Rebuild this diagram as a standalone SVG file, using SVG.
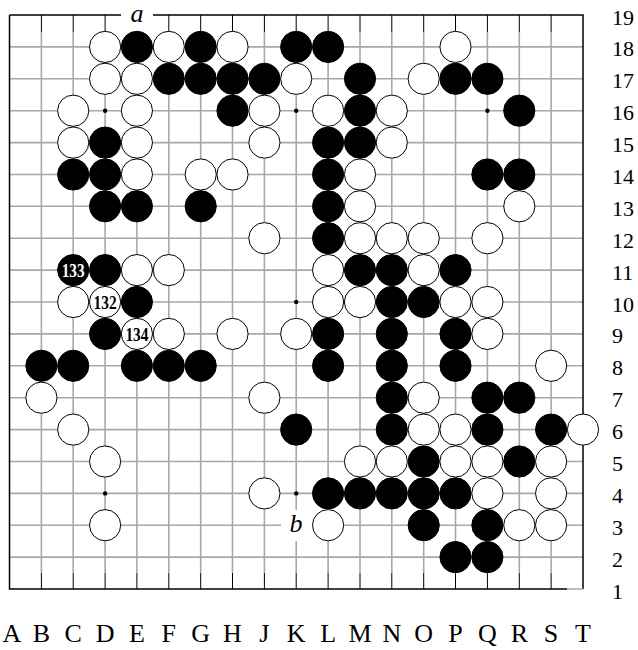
<svg xmlns="http://www.w3.org/2000/svg" width="638" height="650" viewBox="0 0 638 650">
<style>
.g{stroke:#a8a8a8;stroke-width:1.6;fill:none}
.t{stroke:#000;stroke-width:1;fill:none}
.bd{stroke:#000;stroke-width:1.5;fill:none}
.b{fill:#000;stroke:#000;stroke-width:1}
.w{fill:#fff;stroke:#000;stroke-width:1}
.hs{fill:#000}
.lab{font-family:"Liberation Serif","Times New Roman",serif;fill:#000}
.col{font-size:26px;text-anchor:middle}
.row{font-size:22px;text-anchor:start}
.it{font-size:26px;font-style:italic;text-anchor:middle}
.num{font-family:"Liberation Serif","Times New Roman",serif;font-size:18.5px;font-weight:bold;text-anchor:middle}
</style>
<rect width="638" height="650" fill="#fff"/>
<g id="grid">
<g class="g">
<path d="M9.5 46.9H583M9.5 78.8H583M9.5 110.7H583M9.5 142.6H583M9.5 174.5H583M9.5 206.3H583M9.5 238.2H583M9.5 270.1H583M9.5 302H583M9.5 333.9H583M9.5 365.8H583M9.5 397.7H583M9.5 429.6H583M9.5 461.5H583M9.5 493.4H583M9.5 525.2H583M9.5 557.1H583"/>
<path d="M41.4 32V573M73.2 32V573M105.1 32V573M136.9 32V573M168.8 32V573M200.7 32V573M232.5 32V573M264.4 32V573M296.2 32V573M328.1 32V573M360 32V573M391.8 32V573M423.7 32V573M455.5 32V573M487.4 32V573M519.3 32V573M551.1 32V573"/>
</g>
<g class="t">
<path d="M41.4 15V32M73.2 15V32M105.1 15V32M136.9 15V32M168.8 15V32M200.7 15V32M232.5 15V32M264.4 15V32M296.2 15V32M328.1 15V32M360 15V32M391.8 15V32M423.7 15V32M455.5 15V32M487.4 15V32M519.3 15V32M551.1 15V32"/>
<path d="M41.4 573V589M73.2 573V589M105.1 573V589M136.9 573V589M168.8 573V589M200.7 573V589M232.5 573V589M264.4 573V589M296.2 573V589M328.1 573V589M360 573V589M391.8 573V589M423.7 573V589M455.5 573V589M487.4 573V589M519.3 573V589M551.1 573V589"/>
</g>
<path class="bd" d="M9.5 15H583V589M9.5 15V589H567"/>
<path d="M567 589H583" stroke="#a8a8a8" stroke-width="1.5"/>
</g>
<g id="hoshi" class="hs">
<circle cx="105.1" cy="110.7" r="2.2"/>
<circle cx="296.2" cy="110.7" r="2.2"/>
<circle cx="487.4" cy="110.7" r="2.2"/>
<circle cx="296.2" cy="302" r="2.2"/>
<circle cx="105.1" cy="493.4" r="2.2"/>
<circle cx="296.2" cy="493.4" r="2.2"/>
</g>
<g id="marks">
<rect x="121" y="0" width="32" height="31" fill="#fff"/>
<text class="lab it" x="137" y="22">a</text>
<rect x="281" y="510" width="31" height="31" fill="#fff"/>
<text class="lab it" x="296" y="532">b</text>
</g>
<g id="black-stones" class="b">
<circle cx="136.9" cy="46.9" r="15.6"/>
<circle cx="200.7" cy="46.9" r="15.6"/>
<circle cx="296.2" cy="46.9" r="15.6"/>
<circle cx="328.1" cy="46.9" r="15.6"/>
<circle cx="168.8" cy="78.8" r="15.6"/>
<circle cx="200.7" cy="78.8" r="15.6"/>
<circle cx="232.5" cy="78.8" r="15.6"/>
<circle cx="264.4" cy="78.8" r="15.6"/>
<circle cx="360" cy="78.8" r="15.6"/>
<circle cx="455.5" cy="78.8" r="15.6"/>
<circle cx="487.4" cy="78.8" r="15.6"/>
<circle cx="232.5" cy="110.7" r="15.6"/>
<circle cx="360" cy="110.7" r="15.6"/>
<circle cx="519.3" cy="110.7" r="15.6"/>
<circle cx="105.1" cy="142.6" r="15.6"/>
<circle cx="328.1" cy="142.6" r="15.6"/>
<circle cx="360" cy="142.6" r="15.6"/>
<circle cx="73.2" cy="174.5" r="15.6"/>
<circle cx="105.1" cy="174.5" r="15.6"/>
<circle cx="328.1" cy="174.5" r="15.6"/>
<circle cx="487.4" cy="174.5" r="15.6"/>
<circle cx="519.3" cy="174.5" r="15.6"/>
<circle cx="105.1" cy="206.3" r="15.6"/>
<circle cx="136.9" cy="206.3" r="15.6"/>
<circle cx="200.7" cy="206.3" r="15.6"/>
<circle cx="328.1" cy="206.3" r="15.6"/>
<circle cx="328.1" cy="238.2" r="15.6"/>
<circle cx="105.1" cy="270.1" r="15.6"/>
<circle cx="360" cy="270.1" r="15.6"/>
<circle cx="391.8" cy="270.1" r="15.6"/>
<circle cx="455.5" cy="270.1" r="15.6"/>
<circle cx="136.9" cy="302" r="15.6"/>
<circle cx="391.8" cy="302" r="15.6"/>
<circle cx="423.7" cy="302" r="15.6"/>
<circle cx="105.1" cy="333.9" r="15.6"/>
<circle cx="328.1" cy="333.9" r="15.6"/>
<circle cx="391.8" cy="333.9" r="15.6"/>
<circle cx="455.5" cy="333.9" r="15.6"/>
<circle cx="41.4" cy="365.8" r="15.6"/>
<circle cx="73.2" cy="365.8" r="15.6"/>
<circle cx="136.9" cy="365.8" r="15.6"/>
<circle cx="168.8" cy="365.8" r="15.6"/>
<circle cx="200.7" cy="365.8" r="15.6"/>
<circle cx="328.1" cy="365.8" r="15.6"/>
<circle cx="391.8" cy="365.8" r="15.6"/>
<circle cx="455.5" cy="365.8" r="15.6"/>
<circle cx="391.8" cy="397.7" r="15.6"/>
<circle cx="487.4" cy="397.7" r="15.6"/>
<circle cx="519.3" cy="397.7" r="15.6"/>
<circle cx="296.2" cy="429.6" r="15.6"/>
<circle cx="391.8" cy="429.6" r="15.6"/>
<circle cx="487.4" cy="429.6" r="15.6"/>
<circle cx="551.1" cy="429.6" r="15.6"/>
<circle cx="423.7" cy="461.5" r="15.6"/>
<circle cx="519.3" cy="461.5" r="15.6"/>
<circle cx="328.1" cy="493.4" r="15.6"/>
<circle cx="360" cy="493.4" r="15.6"/>
<circle cx="391.8" cy="493.4" r="15.6"/>
<circle cx="423.7" cy="493.4" r="15.6"/>
<circle cx="455.5" cy="493.4" r="15.6"/>
<circle cx="423.7" cy="525.2" r="15.6"/>
<circle cx="487.4" cy="525.2" r="15.6"/>
<circle cx="455.5" cy="557.1" r="15.6"/>
<circle cx="487.4" cy="557.1" r="15.6"/>
</g>
<g id="white-stones" class="w">
<circle cx="105.1" cy="46.9" r="15.6"/>
<circle cx="168.8" cy="46.9" r="15.6"/>
<circle cx="232.5" cy="46.9" r="15.6"/>
<circle cx="455.5" cy="46.9" r="15.6"/>
<circle cx="105.1" cy="78.8" r="15.6"/>
<circle cx="136.9" cy="78.8" r="15.6"/>
<circle cx="296.2" cy="78.8" r="15.6"/>
<circle cx="423.7" cy="78.8" r="15.6"/>
<circle cx="73.2" cy="110.7" r="15.6"/>
<circle cx="136.9" cy="110.7" r="15.6"/>
<circle cx="264.4" cy="110.7" r="15.6"/>
<circle cx="328.1" cy="110.7" r="15.6"/>
<circle cx="391.8" cy="110.7" r="15.6"/>
<circle cx="73.2" cy="142.6" r="15.6"/>
<circle cx="136.9" cy="142.6" r="15.6"/>
<circle cx="264.4" cy="142.6" r="15.6"/>
<circle cx="391.8" cy="142.6" r="15.6"/>
<circle cx="136.9" cy="174.5" r="15.6"/>
<circle cx="200.7" cy="174.5" r="15.6"/>
<circle cx="232.5" cy="174.5" r="15.6"/>
<circle cx="360" cy="174.5" r="15.6"/>
<circle cx="360" cy="206.3" r="15.6"/>
<circle cx="519.3" cy="206.3" r="15.6"/>
<circle cx="264.4" cy="238.2" r="15.6"/>
<circle cx="360" cy="238.2" r="15.6"/>
<circle cx="391.8" cy="238.2" r="15.6"/>
<circle cx="423.7" cy="238.2" r="15.6"/>
<circle cx="487.4" cy="238.2" r="15.6"/>
<circle cx="136.9" cy="270.1" r="15.6"/>
<circle cx="168.8" cy="270.1" r="15.6"/>
<circle cx="328.1" cy="270.1" r="15.6"/>
<circle cx="423.7" cy="270.1" r="15.6"/>
<circle cx="73.2" cy="302" r="15.6"/>
<circle cx="328.1" cy="302" r="15.6"/>
<circle cx="360" cy="302" r="15.6"/>
<circle cx="455.5" cy="302" r="15.6"/>
<circle cx="487.4" cy="302" r="15.6"/>
<circle cx="168.8" cy="333.9" r="15.6"/>
<circle cx="232.5" cy="333.9" r="15.6"/>
<circle cx="296.2" cy="333.9" r="15.6"/>
<circle cx="487.4" cy="333.9" r="15.6"/>
<circle cx="551.1" cy="365.8" r="15.6"/>
<circle cx="41.4" cy="397.7" r="15.6"/>
<circle cx="264.4" cy="397.7" r="15.6"/>
<circle cx="423.7" cy="397.7" r="15.6"/>
<circle cx="73.2" cy="429.6" r="15.6"/>
<circle cx="423.7" cy="429.6" r="15.6"/>
<circle cx="455.5" cy="429.6" r="15.6"/>
<circle cx="583" cy="429.6" r="15.6"/>
<circle cx="105.1" cy="461.5" r="15.6"/>
<circle cx="360" cy="461.5" r="15.6"/>
<circle cx="391.8" cy="461.5" r="15.6"/>
<circle cx="455.5" cy="461.5" r="15.6"/>
<circle cx="487.4" cy="461.5" r="15.6"/>
<circle cx="551.1" cy="461.5" r="15.6"/>
<circle cx="264.4" cy="493.4" r="15.6"/>
<circle cx="487.4" cy="493.4" r="15.6"/>
<circle cx="551.1" cy="493.4" r="15.6"/>
<circle cx="105.1" cy="525.2" r="15.6"/>
<circle cx="328.1" cy="525.2" r="15.6"/>
<circle cx="519.3" cy="525.2" r="15.6"/>
<circle cx="551.1" cy="525.2" r="15.6"/>
</g>
<g id="move-133">
<circle class="b" cx="73.2" cy="270.1" r="15.6"/>
<text class="num" x="73.2" y="276.8" fill="#fff" textLength="23" lengthAdjust="spacingAndGlyphs">133</text>
</g>
<g id="move-132">
<circle class="w" cx="105.1" cy="302" r="15.6"/>
<text class="num" x="105.1" y="308.7" fill="#000" textLength="23" lengthAdjust="spacingAndGlyphs">132</text>
</g>
<g id="move-134">
<circle class="w" cx="136.9" cy="333.9" r="15.6"/>
<text class="num" x="136.9" y="340.6" fill="#000" textLength="23" lengthAdjust="spacingAndGlyphs">134</text>
</g>
<g id="row-labels" class="lab row">
<text x="612" y="24.5">19</text>
<text x="612" y="56.4">18</text>
<text x="612" y="88.3">17</text>
<text x="612" y="120.2">16</text>
<text x="612" y="152.1">15</text>
<text x="612" y="184">14</text>
<text x="612" y="215.8">13</text>
<text x="612" y="247.7">12</text>
<text x="612" y="279.6">11</text>
<text x="612" y="311.5">10</text>
<text x="612" y="343.4">9</text>
<text x="612" y="375.3">8</text>
<text x="612" y="407.2">7</text>
<text x="612" y="439.1">6</text>
<text x="612" y="471">5</text>
<text x="612" y="502.9">4</text>
<text x="612" y="534.7">3</text>
<text x="612" y="566.6">2</text>
<text x="612" y="598.5">1</text>
</g>
<g id="col-labels" class="lab col">
<text x="12" y="642">A</text>
<text x="41.4" y="642">B</text>
<text x="73.2" y="642">C</text>
<text x="105.1" y="642">D</text>
<text x="136.9" y="642">E</text>
<text x="168.8" y="642">F</text>
<text x="200.7" y="642">G</text>
<text x="232.5" y="642">H</text>
<text x="264.4" y="642">J</text>
<text x="296.2" y="642">K</text>
<text x="328.1" y="642">L</text>
<text x="360" y="642">M</text>
<text x="391.8" y="642">N</text>
<text x="423.7" y="642">O</text>
<text x="455.5" y="642">P</text>
<text x="487.4" y="642">Q</text>
<text x="519.3" y="642">R</text>
<text x="551.1" y="642">S</text>
<text x="583" y="642">T</text>
</g>
</svg>
